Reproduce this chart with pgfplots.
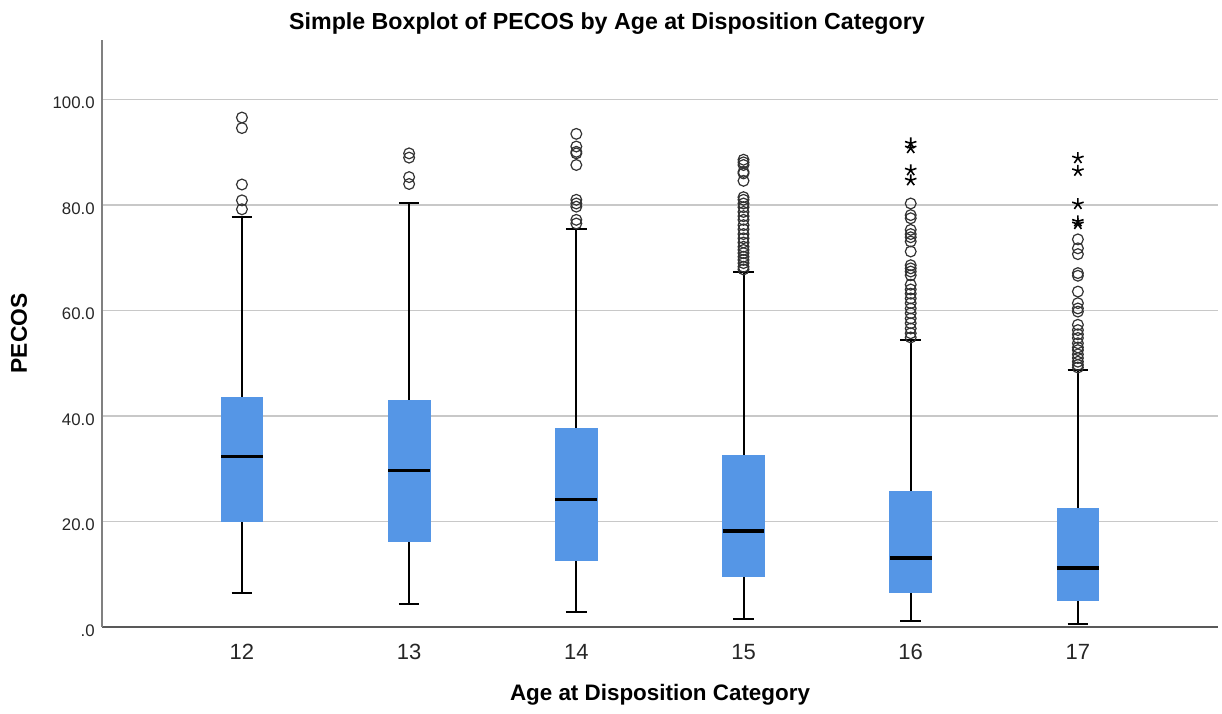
\documentclass[border=0pt]{standalone}
\usepackage{fontspec}
\setmainfont{Liberation Sans}
\usepackage{pgfplots}
\pgfplotsset{compat=1.18}
\usepgfplotslibrary{statistics}
\definecolor{boxblue}{HTML}{5596E6}
\definecolor{gridgray}{HTML}{C8C8C8}
\definecolor{outl}{HTML}{333333}
\begin{document}
\begin{tikzpicture}
\useasboundingbox (-51pt,-43pt) rectangle (560pt,313.5pt);
\begin{axis}[
  at={(0,0)}, anchor=south west,
  scale only axis, width=558pt, height=293.5pt,
  xmin=11.163, xmax=17.838, ymin=0, ymax=111.3,
  axis x line=bottom, axis y line=left,
  axis line style={-},
  x axis line style={draw=black!65, line width=0.8pt},
  y axis line style={draw=black!50, line width=0.8pt},
  ymajorgrids, grid style={gridgray, line width=0.8pt},
  ytick={0,20,40,60,80,100}, yticklabels={.0,20.0,40.0,60.0,80.0,100.0},
  xtick={12,13,14,15,16,17}, xticklabels={12,13,14,15,16,17},
  tick style={draw=none},
  yticklabel style={font=\fontsize{8.4}{10}\selectfont, text=black!85, anchor=east, xshift=2pt, yshift=-1.7pt},
  xticklabel style={font=\fontsize{11}{13}\selectfont, text=black!85, anchor=center, yshift=-10.25pt},
  title={Simple Boxplot of PECOS by Age at Disposition Category},
  title style={font=\bfseries\fontsize{11.6}{14}\selectfont, at={(0.4525,1.0068)}, anchor=center},
  xlabel={Age at Disposition Category},
  xlabel style={font=\bfseries\fontsize{11.2}{14}\selectfont, at={(0.5,-0.1107)}, anchor=center, yshift=-1.5pt},
  ylabel={PECOS},
  ylabel style={font=\bfseries\fontsize{11.4}{14}\selectfont, at={(-0.0744,0.5)}, anchor=center},
  clip=false,
  boxplot/draw direction=y,
  boxplot/every box/.style={fill=boxblue, draw=boxblue, line width=0.4pt},
  boxplot/every median/.style={draw=black, line width=1.6pt},
]
\addplot[black, line width=1pt, boxplot prepared={draw position=12, lower whisker=6.4, lower quartile=20.0, median=32.3, upper quartile=43.6, upper whisker=77.7, box extend=0.25, whisker extend=0.124}] coordinates {};
\addplot[black, line width=1pt, boxplot prepared={draw position=13, lower whisker=4.35, lower quartile=16.2, median=29.6, upper quartile=42.9, upper whisker=80.3, box extend=0.25, whisker extend=0.124}] coordinates {};
\addplot[black, line width=1pt, boxplot prepared={draw position=14, lower whisker=2.9, lower quartile=12.6, median=24.1, upper quartile=37.6, upper whisker=75.5, box extend=0.25, whisker extend=0.124}] coordinates {};
\addplot[black, line width=1pt, boxplot prepared={draw position=15, lower whisker=1.6, lower quartile=9.5, median=18.2, upper quartile=32.5, upper whisker=67.4, box extend=0.25, whisker extend=0.124}] coordinates {};
\addplot[black, line width=1pt, boxplot prepared={draw position=16, lower whisker=1.2, lower quartile=6.6, median=13.1, upper quartile=25.7, upper whisker=54.4, box extend=0.25, whisker extend=0.124}] coordinates {};
\addplot[black, line width=1pt, boxplot prepared={draw position=17, lower whisker=0.6, lower quartile=5.0, median=11.2, upper quartile=22.4, upper whisker=48.7, box extend=0.25, whisker extend=0.124}] coordinates {};
% outliers (circles)
\addplot[only marks, mark=o, mark size=2.7pt, draw=outl, line width=0.6pt] coordinates {
 (12,96.6) (12,94.6) (12,83.9) (12,80.9) (12,79.2)
 (13,89.8) (13,89.0) (13,85.3) (13,84.0)
 (14,93.5) (14,91.1) (14,90.1) (14,89.8) (14,87.6) (14,81.0) (14,80.3) (14,79.7) (14,77.2) (14,76.5)
 (15,88.6) (15,88.1) (15,87.6) (15,86.3) (15,86.0) (15,84.6) (15,81.5) (15,81.0) (15,80.3) (15,79.6)
 (15,78.7) (15,77.9) (15,77.2) (15,76.2) (15,75.4) (15,74.5) (15,73.7) (15,72.9) (15,72.1) (15,71.5)
 (15,70.9) (15,70.2) (15,69.6) (15,69.0) (15,68.3) (15,67.8)
 (16,80.3) (16,78.1) (16,77.5) (16,75.3) (16,74.5) (16,73.9) (16,73.1) (16,71.2) (16,68.6) (16,68.0)
 (16,67.4) (16,66.7) (16,64.9) (16,64.0) (16,63.2) (16,62.3) (16,61.4) (16,60.4) (16,59.5) (16,58.5)
 (16,57.6) (16,56.6) (16,55.7) (16,54.9)
 (17,73.5) (17,71.8) (17,70.7) (17,67.1) (17,66.6) (17,63.6) (17,61.4) (17,60.4) (17,59.8) (17,57.3)
 (17,56.3) (17,55.5) (17,54.8) (17,53.8) (17,53.0) (17,52.5) (17,51.7) (17,51.0) (17,50.3) (17,49.7) (17,49.2)
};
% extremes (stars)
\addplot[only marks, mark=star, mark size=3pt, draw=black, line width=0.8pt] coordinates {
 (16,91.7) (16,90.8) (16,86.6) (16,84.7)
 (17,88.9) (17,86.5) (17,80.2) (17,76.9) (17,76.4)
};
\end{axis}
\end{tikzpicture}
\end{document}
